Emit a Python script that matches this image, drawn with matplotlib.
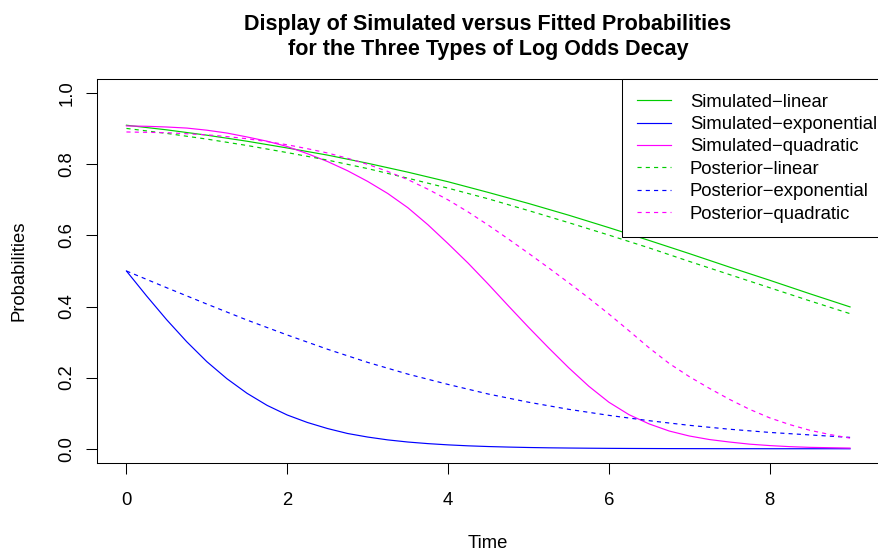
import matplotlib
matplotlib.use('Agg')
import matplotlib.pyplot as plt

plt.rcParams['font.family'] = ['Liberation Sans', 'DejaVu Sans']

# 时间点 (读图所得)
time = [0.0, 0.5, 1.0, 1.5, 2.0, 2.5, 3.0, 3.5, 4.0, 4.5,
        5.0, 5.5, 6.0, 6.5, 7.0, 7.5, 8.0, 8.5, 9.0]
# 弯曲较大的曲线用更密的时间点
time_fine = [0.0, 0.25, 0.5, 0.75, 1.0, 1.25, 1.5, 1.75, 2.0, 2.25, 2.5, 2.75,
             3.0, 3.25, 3.5, 3.75, 4.0, 4.25, 4.5, 4.75, 5.0, 5.25, 5.5, 5.75,
             6.0, 6.25, 6.5, 6.75, 7.0, 7.25, 7.5, 7.75, 8.0, 8.25, 8.5, 8.75, 9.0]

sim_linear = [0.910, 0.897, 0.882, 0.865, 0.846, 0.826, 0.803, 0.778, 0.751, 0.721,
              0.690, 0.657, 0.622, 0.586, 0.549, 0.511, 0.474, 0.436, 0.399]
sim_exponential = [0.500, 0.430, 0.363, 0.301, 0.245, 0.197, 0.156, 0.122, 0.095, 0.074,
                   0.057, 0.043, 0.033, 0.025, 0.019, 0.0145, 0.011, 0.0083, 0.0063, 0.0048,
                   0.0036, 0.0027, 0.0021, 0.0016, 0.0012, 0.0009, 0.0007, 0.0005, 0.0004,
                   0.0003, 0.0002, 0.0002, 0.0001, 0.0001, 0.0001, 0.0001, 0.0000]
sim_quadratic = [0.908, 0.907, 0.905, 0.902, 0.896, 0.888, 0.877, 0.865, 0.850, 0.830,
                 0.808, 0.782, 0.752, 0.718, 0.678, 0.630, 0.577, 0.522, 0.463, 0.402,
                 0.342, 0.284, 0.228, 0.176, 0.131, 0.096, 0.070, 0.050, 0.036, 0.026,
                 0.019, 0.013, 0.009, 0.006, 0.004, 0.003, 0.002]
post_linear = [0.901, 0.887, 0.871, 0.853, 0.833, 0.812, 0.788, 0.761, 0.733, 0.703,
               0.670, 0.636, 0.601, 0.565, 0.527, 0.490, 0.453, 0.416, 0.380]
post_exponential = [0.500, 0.453, 0.407, 0.362, 0.320, 0.280, 0.243, 0.210, 0.181, 0.154,
                    0.131, 0.111, 0.094, 0.079, 0.066, 0.055, 0.046, 0.039, 0.032]
post_quadratic = [0.891, 0.890, 0.889, 0.886, 0.883, 0.878, 0.872, 0.864, 0.855, 0.844,
                  0.832, 0.817, 0.800, 0.780, 0.757, 0.730, 0.700, 0.666, 0.629, 0.590,
                  0.550, 0.509, 0.467, 0.424, 0.379, 0.332, 0.284, 0.240, 0.203, 0.170,
                  0.139, 0.111, 0.087, 0.068, 0.052, 0.040, 0.030]

x_ticks = [0, 2, 4, 6, 8]
y_ticks = [0.0, 0.2, 0.4, 0.6, 0.8, 1.0]
y_tick_labels = ['0.0', '0.2', '0.4', '0.6', '0.8', '1.0']

GREEN = '#00CD00'
BLUE = '#0000FF'
MAGENTA = '#FF00FF'

fig = plt.figure(figsize=(8.79, 5.52), dpi=100)
W, H = 879.0, 552.0
ax = fig.add_axes([97.5 / W, (H - 463) / H, (W - 97.5) / W, 384 / H])

lw = 0.85
dash = (3.5, 3.5)
ax.plot(time, sim_linear, color=GREEN, lw=lw, label='Simulated\u2212linear')
ax.plot(time_fine, sim_exponential, color=BLUE, lw=lw, label='Simulated\u2212exponential')
ax.plot(time_fine, sim_quadratic, color=MAGENTA, lw=lw, label='Simulated\u2212quadratic')
ax.plot(time, post_linear, color=GREEN, lw=lw, dashes=dash, label='Posterior\u2212linear')
ax.plot(time, post_exponential, color=BLUE, lw=lw, dashes=dash, label='Posterior\u2212exponential')
ax.plot(time_fine, post_quadratic, color=MAGENTA, lw=lw, dashes=dash, label='Posterior\u2212quadratic')

ax.set_xlim(-0.36, 9.36)
ax.set_ylim(-0.04, 1.04)
ax.set_xticks(x_ticks)
ax.set_xticklabels([str(t) for t in x_ticks])
ax.set_yticks(y_ticks)
ax.set_yticklabels(y_tick_labels, rotation=90, va='center')
ax.tick_params(axis='both', length=8, width=0.75, labelsize=13.3)
ax.tick_params(axis='x', pad=13)
ax.tick_params(axis='y', pad=8)
for s in ax.spines.values():
    s.set_linewidth(0.75)

fig.text(488 / W, (H - 543) / H, 'Time', ha='center', va='center', fontsize=13.3)
fig.text(19 / W, (H - 271) / H, 'Probabilities', ha='center', va='center',
         rotation=90, fontsize=13.3)
fig.text(488 / W, (H - 37) / H,
         'Display of Simulated versus Fitted Probabilities\nfor the Three Types of Log Odds Decay',
         ha='center', va='center', fontsize=15.5, fontweight='bold', linespacing=1.2)

leg = ax.legend(loc='upper left', bbox_to_anchor=((622 - 97.5) / (W - 97.5), 1.0),
                fontsize=13.3, frameon=True, fancybox=False, framealpha=1,
                edgecolor='black', borderaxespad=0, borderpad=0.8,
                handlelength=1.85, handletextpad=1.03, labelspacing=0.29)
leg.get_frame().set_linewidth(0.75)

fig.savefig('out.png', dpi=100)
